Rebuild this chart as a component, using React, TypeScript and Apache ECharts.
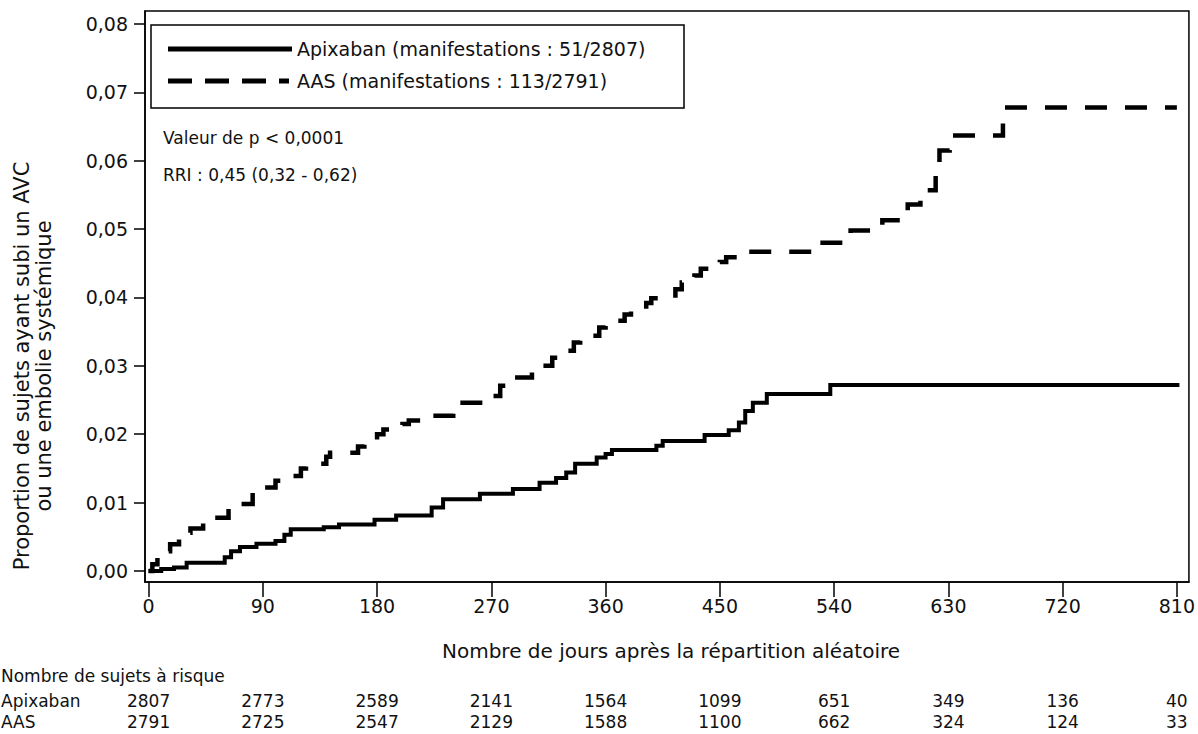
import React, { useEffect, useRef } from "react";
import * as echarts from "echarts";

const dayTicks = [0, 90, 180, 270, 360, 450, 540, 630, 720, 810];
const yTicks = [0, 0.01, 0.02, 0.03, 0.04, 0.05, 0.06, 0.07, 0.08];

const riskApixaban = [2807, 2773, 2589, 2141, 1564, 1099, 651, 349, 136, 40];
const riskAAS = [2791, 2725, 2547, 2129, 1588, 1100, 662, 324, 124, 33];

const apixabanDays = [0, 10, 20, 30, 60, 65, 72, 85, 100, 107, 112, 138, 150, 178, 195, 223, 232, 261, 287, 308, 321, 329, 336, 353, 360, 365, 400, 405, 438, 457, 465, 470, 476, 487, 537, 812];
const apixabanValues = [0, 0.0003, 0.0005, 0.0012, 0.002, 0.0029, 0.0035, 0.004, 0.0044, 0.0053, 0.0061, 0.0064, 0.0068, 0.0075, 0.0081, 0.0093, 0.0105, 0.0113, 0.012, 0.0129, 0.0136, 0.0144, 0.0157, 0.0166, 0.0171, 0.0177, 0.0183, 0.019, 0.0199, 0.0206, 0.0217, 0.0234, 0.0246, 0.0259, 0.0272, 0.0272];

const aasDays = [0, 3, 7, 11, 17, 24, 26, 33, 43, 50, 63, 66, 82, 86, 100, 102, 120, 124, 140, 143, 165, 170, 180, 185, 200, 205, 218, 240, 243, 263, 277, 285, 302, 308, 318, 322, 335, 340, 355, 360, 375, 380, 392, 396, 415, 420, 430, 435, 450, 455, 470, 525, 548, 553, 573, 578, 595, 598, 608, 612, 620, 623, 631, 673, 810];
const aasValues = [0, 0.001, 0.002, 0.0029, 0.0039, 0.0048, 0.0056, 0.0062, 0.0073, 0.0078, 0.0092, 0.0098, 0.0116, 0.0122, 0.0132, 0.0139, 0.015, 0.0157, 0.0167, 0.0173, 0.0182, 0.0188, 0.02, 0.0207, 0.0215, 0.022, 0.0227, 0.0238, 0.0246, 0.0256, 0.0271, 0.0283, 0.0292, 0.03, 0.0312, 0.0322, 0.0334, 0.0344, 0.0356, 0.0366, 0.0375, 0.0381, 0.0392, 0.0399, 0.0412, 0.0422, 0.0432, 0.0442, 0.0452, 0.0459, 0.0467, 0.048, 0.049, 0.0498, 0.0506, 0.0513, 0.0525, 0.0536, 0.0548, 0.0557, 0.059, 0.0615, 0.0637, 0.0678, 0.0678];

const legendApixaban = "Apixaban (manifestations : 51/2807)";
const legendAAS = "AAS (manifestations : 113/2791)";
const pValueText = "Valeur de p < 0,0001";
const hrText = "RRI : 0,45 (0,32 - 0,62)";
const xAxisTitle = "Nombre de jours après la répartition aléatoire";
const yAxisTitle = "Proportion de sujets ayant subi un AVC\nou une embolie systémique";
const riskHeader = "Nombre de sujets à risque";
const riskRowLabels = ["Apixaban", "AAS"];

const FONT = '"DejaVu Sans", "Liberation Sans", Arial, sans-serif';
const X_MIN = -2.8;
const X_MAX = 819.5;

function zip(xs: number[], ys: number[]) {
  return xs.map((x, i) => [x, ys[i]]);
}

function riskAxis(values: number[], offset: number) {
  return {
    type: "value",
    gridIndex: 0,
    position: "bottom",
    offset,
    min: X_MIN,
    max: X_MAX,
    axisLine: { show: false, onZero: false },
    axisTick: { show: false },
    splitLine: { show: false },
    axisLabel: {
      customValues: dayTicks,
      formatter: (v: number) => {
        const idx = dayTicks.indexOf(Math.round(v));
        return idx >= 0 ? String(values[idx]) : "";
      },
      fontFamily: FONT,
      fontSize: 17,
      color: "#111",
      margin: 8,
    },
  };
}

export default function App() {
  const ref = useRef<HTMLDivElement>(null);
  useEffect(() => {
    if (!ref.current) return;
    const chart = echarts.init(ref.current, undefined, { renderer: "svg" });
    const textStyle = (text: string, size: number, extra: any = {}) => ({
      text,
      fontSize: size,
      fontFamily: FONT,
      fill: "#111",
      ...extra,
    });
    chart.setOption({
      animation: false,
      backgroundColor: "#fff",
      grid: {
        left: 145,
        top: 11,
        right: 8,
        bottom: 152,
        show: true,
        borderColor: "#000",
        borderWidth: 1.5,
        containLabel: false,
      },
      xAxis: [
        {
          type: "value",
          min: X_MIN,
          max: X_MAX,
          axisLine: { show: true, onZero: false, lineStyle: { color: "#000", width: 1.5 } },
          axisTick: {
            show: true,
            customValues: dayTicks,
            length: 15,
            lineStyle: { color: "#000", width: 1.5 },
          },
          splitLine: { show: false },
          axisLabel: {
            customValues: dayTicks,
            fontFamily: FONT,
            fontSize: 19,
            color: "#111",
            margin: 14,
          },
        },
        riskAxis(riskApixaban, 102),
        riskAxis(riskAAS, 123),
      ],
      yAxis: {
        type: "value",
        min: -0.00161,
        max: 0.0819,
        axisLine: { show: true, onZero: false, lineStyle: { color: "#000", width: 1.5 } },
        axisTick: {
          show: true,
          customValues: yTicks,
          length: 11,
          lineStyle: { color: "#000", width: 1.5 },
        },
        splitLine: { show: false },
        axisLabel: {
          customValues: yTicks,
          formatter: (v: number) => v.toFixed(2).replace(".", ","),
          fontFamily: FONT,
          fontSize: 19,
          color: "#111",
          margin: 17,
        },
      },
      series: [
        {
          name: "Apixaban",
          type: "line",
          step: "end",
          showSymbol: false,
          data: zip(apixabanDays, apixabanValues),
          lineStyle: { color: "#000", width: 4, cap: "butt", join: "miter" },
          z: 3,
        },
        {
          name: "AAS",
          type: "line",
          step: "end",
          showSymbol: false,
          data: zip(aasDays, aasValues),
          lineStyle: { color: "#000", width: 4.5, type: [22, 18], cap: "butt", join: "miter" },
          z: 3,
        },
      ],
      graphic: [
        {
          type: "rect",
          shape: { x: 151, y: 25, width: 533, height: 83 },
          style: { fill: "#fff", stroke: "#000", lineWidth: 1.5 },
          z: 10,
        },
        {
          type: "line",
          shape: { x1: 168, y1: 49, x2: 292, y2: 49 },
          style: { stroke: "#000", lineWidth: 5 },
          z: 11,
        },
        {
          type: "line",
          shape: { x1: 168, y1: 81, x2: 289, y2: 81 },
          style: { stroke: "#000", lineWidth: 5, lineDash: [24, 13] },
          z: 11,
        },
        {
          type: "text",
          x: 297,
          y: 49,
          style: textStyle(legendApixaban, 19, { align: "left", verticalAlign: "middle" }),
          z: 11,
        },
        {
          type: "text",
          x: 297,
          y: 81,
          style: textStyle(legendAAS, 19, { align: "left", verticalAlign: "middle" }),
          z: 11,
        },
        {
          type: "text",
          x: 163,
          y: 138,
          style: textStyle(pValueText, 17, { align: "left", verticalAlign: "middle" }),
        },
        {
          type: "text",
          x: 163,
          y: 175,
          style: textStyle(hrText, 17, { align: "left", verticalAlign: "middle" }),
        },
        {
          type: "text",
          x: 671,
          y: 651,
          style: textStyle(xAxisTitle, 20, { align: "center", verticalAlign: "middle" }),
        },
        {
          type: "text",
          x: 33,
          y: 366,
          rotation: Math.PI / 2,
          style: textStyle(yAxisTitle, 21, { align: "center", verticalAlign: "middle", lineHeight: 22 }),
        },
        {
          type: "text",
          x: 1,
          y: 676,
          style: textStyle(riskHeader, 17, { align: "left", verticalAlign: "middle" }),
        },
        {
          type: "text",
          x: 1,
          y: 701,
          style: textStyle(riskRowLabels[0], 17, { align: "left", verticalAlign: "middle" }),
        },
        {
          type: "text",
          x: 1,
          y: 722,
          style: textStyle(riskRowLabels[1], 17, { align: "left", verticalAlign: "middle" }),
        },
      ],
    });
    return () => chart.dispose();
  }, []);
  return (
    <div
      ref={ref}
      style={{ position: "absolute", left: 0, top: 0, width: 1198, height: 734 }}
    />
  );
}
